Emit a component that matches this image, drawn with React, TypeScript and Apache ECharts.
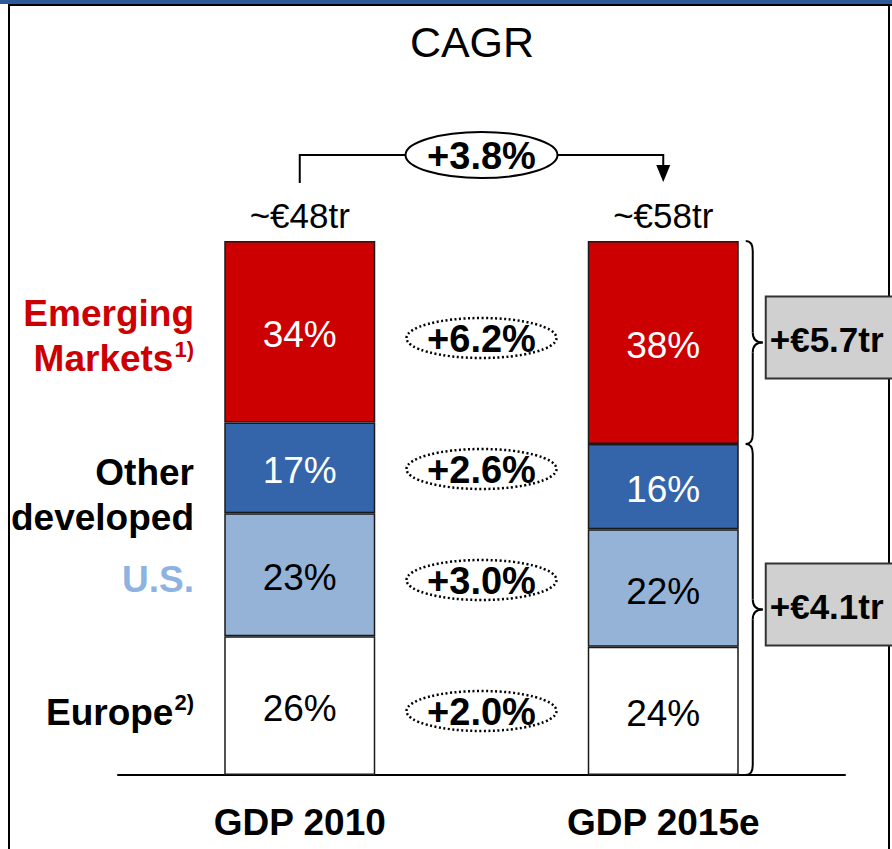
import React, { useEffect, useRef } from "react";
import * as echarts from "echarts";

// ---- data ----
const categories = ["GDP 2010", "GDP 2015e"];
const regionNames = ["Europe", "U.S.", "Other developed", "Emerging Markets"];
const europeShare = [26, 24];
const usShare = [23, 22];
const otherDevShare = [17, 16];
const emergingShare = [34, 38];
const totalGdpTr = [48, 58];
const totalCagr = 3.8;
// order: Europe, U.S., Other developed, Emerging Markets
const regionCagr = [2.0, 3.0, 2.6, 6.2];
// order: Emerging Markets, developed (Europe + U.S. + Other developed)
const increaseTr = [5.7, 4.1];

const FONT = "'Liberation Sans', Arial, Helvetica, sans-serif";
const RED = "#CC0000";
const DARK_BLUE = "#3465AA";
const LIGHT_BLUE = "#95B3D7";
const US_LABEL = "#8DB3E2";

export default function App() {
  const ref = useRef<HTMLDivElement>(null);

  useEffect(() => {
    if (!ref.current) return;
    const chart = echarts.init(ref.current, null, { renderer: "svg" });

    const barLabel = (color: string) => ({
      show: true,
      position: "inside",
      offset: [0, 3],
      color,
      fontFamily: FONT,
      fontSize: 37,
      formatter: (p: any) => `${p.value}%`,
    });
    const itemStyle = (color: string) => ({
      color,
      borderColor: "#1a1a1a",
      borderWidth: 1.5,
    });

    chart.setOption({
      animation: false,
      grid: { left: 118, right: 47, top: 241, bottom: 74 },
      xAxis: {
        type: "category",
        data: categories,
        axisLine: { show: true, lineStyle: { color: "#000", width: 2 } },
        axisTick: { show: false },
        axisLabel: {
          margin: 29,
          color: "#000",
          fontFamily: FONT,
          fontSize: 37,
          fontWeight: "bold",
        },
      },
      yAxis: { type: "value", min: 0, max: 100, show: false },
      series: [
        {
          name: regionNames[0],
          type: "bar",
          stack: "gdp",
          barWidth: 151,
          data: europeShare,
          itemStyle: itemStyle("#FFFFFF"),
          label: barLabel("#000"),
        },
        {
          name: regionNames[1],
          type: "bar",
          stack: "gdp",
          data: usShare,
          itemStyle: itemStyle(LIGHT_BLUE),
          label: barLabel("#000"),
        },
        {
          name: regionNames[2],
          type: "bar",
          stack: "gdp",
          data: otherDevShare,
          itemStyle: itemStyle(DARK_BLUE),
          label: barLabel("#fff"),
        },
        {
          name: regionNames[3],
          type: "bar",
          stack: "gdp",
          data: emergingShare,
          itemStyle: itemStyle(RED),
          label: barLabel("#fff"),
        },
        {
          name: "total",
          type: "bar",
          stack: "gdp",
          data: [0, 0],
          itemStyle: { color: "transparent" },
          label: {
            show: true,
            position: "top",
            distance: 8,
            color: "#000",
            fontFamily: FONT,
            fontSize: 35,
            formatter: (p: any) => `~€${totalGdpTr[p.dataIndex]}tr`,
          },
        },
      ],
    });

    const px = (i: number, v: number) =>
      chart.convertToPixel({ gridIndex: 0 }, [i, v]) as number[];
    const [xA, yTop] = px(0, 100);
    const [xB] = px(1, 100);
    const [, yBase] = px(1, 0);
    const [, yEmB] = px(1, 100 - emergingShare[1]);
    const xm = (xA + xB) / 2;
    const halfBar = 75.5;

    const g: any[] = [];

    // frame
    g.push({ type: "rect", shape: { x: 0, y: 0, width: 892, height: 4 }, style: { fill: "#2E5A9C" }, z: 100 });
    g.push({ type: "line", shape: { x1: 8, y1: 5, x2: 892, y2: 5 }, style: { stroke: "#000", lineWidth: 2 }, z: 100 });
    g.push({ type: "line", shape: { x1: 9, y1: 5, x2: 9, y2: 849 }, style: { stroke: "#000", lineWidth: 2 }, z: 100 });
    g.push({ type: "line", shape: { x1: 889, y1: 5, x2: 889, y2: 849 }, style: { stroke: "#000", lineWidth: 2 }, z: 100 });

    // title
    g.push({
      type: "text",
      x: 472,
      y: 42,
      style: { text: "CAGR", font: `43px ${FONT}`, fill: "#000", align: "center", verticalAlign: "middle" },
    });

    // total CAGR connector
    const cy = 155;
    const rx = 76;
    const ry = 23;
    g.push({
      type: "polyline",
      shape: { points: [[xA, yTop - 58], [xA, cy], [xm - rx, cy]] },
      style: { stroke: "#000", lineWidth: 2, fill: null },
    });
    g.push({
      type: "polyline",
      shape: { points: [[xm + rx, cy], [xB, cy], [xB, yTop - 75]] },
      style: { stroke: "#000", lineWidth: 2, fill: null },
    });
    g.push({
      type: "polygon",
      shape: { points: [[xB - 7, yTop - 76], [xB + 7, yTop - 76], [xB, yTop - 59]] },
      style: { fill: "#000" },
    });
    g.push({
      type: "ellipse",
      shape: { cx: xm, cy, rx, ry },
      style: { fill: "#fff", stroke: "#000", lineWidth: 2 },
    });
    g.push({
      type: "text",
      x: xm,
      y: cy + 1,
      style: { text: `+${totalCagr.toFixed(1)}%`, font: `bold 38px ${FONT}`, fill: "#000", align: "center", verticalAlign: "middle" },
    });

    // regional CAGR bubbles (Europe, U.S., Other developed, Emerging)
    const bubbleY = [711, 580, 469, 338];
    regionCagr.forEach((v, i) => {
      g.push({
        type: "ellipse",
        shape: { cx: xm, cy: bubbleY[i], rx: 75, ry: 20 },
        style: { fill: "#fff", stroke: "#000", lineWidth: 2.5, lineDash: [2, 2.5] },
      });
      g.push({
        type: "text",
        x: xm,
        y: bubbleY[i] + 1,
        style: { text: `+${v.toFixed(1)}%`, font: `bold 38px ${FONT}`, fill: "#000", align: "center", verticalAlign: "middle" },
      });
    });

    // region labels on the left
    const labelX = 194;
    const sup = { fontSize: 22, fontWeight: "bold", fontFamily: FONT, verticalAlign: "top", padding: [2, 0, 0, 1] };
    g.push({
      type: "text",
      x: labelX,
      y: 336,
      style: {
        text: "Emerging\nMarkets{sup|1)}",
        font: `bold 37px ${FONT}`,
        fill: RED,
        align: "right",
        verticalAlign: "middle",
        lineHeight: 45,
        rich: { sup: { ...sup, fill: RED, color: RED } },
      },
    });
    g.push({
      type: "text",
      x: labelX,
      y: 495,
      style: {
        text: "Other\ndeveloped",
        font: `bold 37px ${FONT}`,
        fill: "#000",
        align: "right",
        verticalAlign: "middle",
        lineHeight: 45,
      },
    });
    g.push({
      type: "text",
      x: labelX,
      y: 579,
      style: { text: "U.S.", font: `bold 37px ${FONT}`, fill: US_LABEL, align: "right", verticalAlign: "middle" },
    });
    g.push({
      type: "text",
      x: labelX,
      y: 712,
      style: {
        text: "Europe{sup|2)}",
        font: `bold 37px ${FONT}`,
        fill: "#000",
        align: "right",
        verticalAlign: "middle",
        lineHeight: 45,
        rich: { sup: { ...sup, fill: "#000", color: "#000" } },
      },
    });

    // braces
    const bx0 = xB + halfBar + 7;
    const bxv = bx0 + 7;
    const bxt = bx0 + 17;
    const r = 10;
    const brace = (y1: number, y2: number) => {
      const ym = (y1 + y2) / 2;
      const s = { stroke: "#000", lineWidth: 2, fill: null };
      return [
        { type: "bezierCurve", shape: { x1: bx0, y1, cpx1: bxv, cpy1: y1, x2: bxv, y2: y1 + r }, style: s },
        { type: "line", shape: { x1: bxv, y1: y1 + r, x2: bxv, y2: ym - r }, style: s },
        { type: "bezierCurve", shape: { x1: bxv, y1: ym - r, cpx1: bxv, cpy1: ym, x2: bxt, y2: ym }, style: s },
        { type: "bezierCurve", shape: { x1: bxt, y1: ym, cpx1: bxv, cpy1: ym, x2: bxv, y2: ym + r }, style: s },
        { type: "line", shape: { x1: bxv, y1: ym + r, x2: bxv, y2: y2 - r }, style: s },
        { type: "bezierCurve", shape: { x1: bxv, y1: y2 - r, cpx1: bxv, cpy1: y2, x2: bx0, y2 }, style: s },
      ];
    };
    g.push(...brace(yTop, yEmB));
    g.push(...brace(yEmB, yBase));

    // increase boxes
    const boxCenters = [(yTop + yEmB) / 2 - 5, (yEmB + yBase) / 2 - 5];
    increaseTr.forEach((v, i) => {
      g.push({
        type: "rect",
        shape: { x: bxt + 3, y: boxCenters[i] - 41, width: 140, height: 82 },
        style: { fill: "#D0D0D0", stroke: "#333", lineWidth: 2 },
        z: 110,
      });
      g.push({
        type: "text",
        x: bxt + 7,
        y: boxCenters[i] + 2,
        style: { text: `+€${v.toFixed(1)}tr`, font: `bold 35px ${FONT}`, fill: "#000", align: "left", verticalAlign: "middle" },
        z: 111,
      });
    });

    chart.setOption({ graphic: g });

    return () => chart.dispose();
  }, []);

  return (
    <div
      ref={ref}
      style={{ position: "absolute", left: 0, top: 0, width: 892, height: 849, background: "#fff" }}
    />
  );
}
